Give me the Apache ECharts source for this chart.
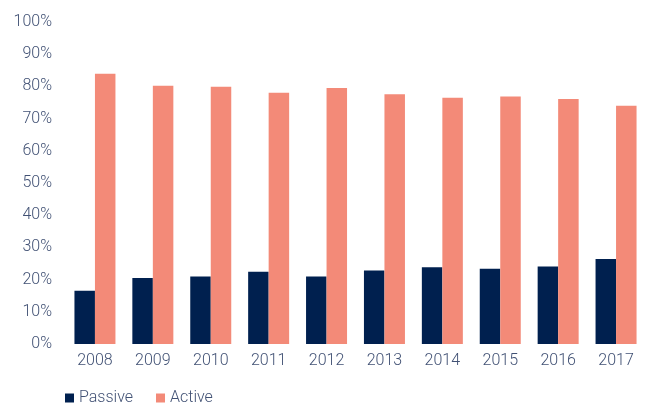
<!DOCTYPE html>
<html>
<head>
<meta charset="utf-8">
<script src="https://cdn.jsdelivr.net/npm/echarts@6/dist/echarts.min.js"></script>
<style>
  html, body { margin: 0; padding: 0; background: #fff; }
  #chart { width: 645px; height: 406px; }
</style>
</head>
<body>
<div id="chart"></div>
<script>
// years on the x axis
var years = ['2008', '2009', '2010', '2011', '2012', '2013', '2014', '2015', '2016', '2017'];
// share of assets, in percent
var passive = [16.5, 20.5, 21.0, 22.4, 21.0, 22.8, 23.8, 23.4, 24.1, 26.4];
var active = [83.9, 80.2, 79.9, 78.0, 79.5, 77.6, 76.5, 76.9, 76.1, 74.0];

var textColor = '#415174';
var mychart = echarts.init(document.getElementById('chart'));

var options = {
    animation: false,
    textStyle: { fontFamily: 'Roboto', fontWeight: 300 },
    grid: { left: 66, right: -6, top: 22, bottom: 62 },
    legend: {
        left: 60,
        top: 385,
        itemWidth: 9,
        itemHeight: 9,
        itemGap: 23,
        icon: 'rect',
        textStyle: { color: textColor, fontSize: 16, fontFamily: 'Roboto', fontWeight: 300 },
        data: ['Passive', 'Active']
    },
    xAxis: {
        type: 'category',
        data: years,
        axisLine: { show: false },
        axisTick: { show: false },
        axisLabel: { color: textColor, fontSize: 16, fontWeight: 300, margin: 9 }
    },
    yAxis: {
        type: 'value',
        min: 0,
        max: 100,
        interval: 10,
        splitLine: { show: false },
        axisLabel: { color: textColor, fontSize: 16, fontWeight: 300, margin: 14, formatter: '{value}%' }
    },
    series: [
        {
            name: 'Passive',
            type: 'bar',
            data: passive,
            barWidth: 20.5,
            barGap: '0%',
            itemStyle: { color: '#00204f' }
        },
        {
            name: 'Active',
            type: 'bar',
            data: active,
            barWidth: 20.5,
            itemStyle: { color: '#f38a78' }
        }
    ]
};
mychart.setOption(options);
</script>
</body>
</html>
